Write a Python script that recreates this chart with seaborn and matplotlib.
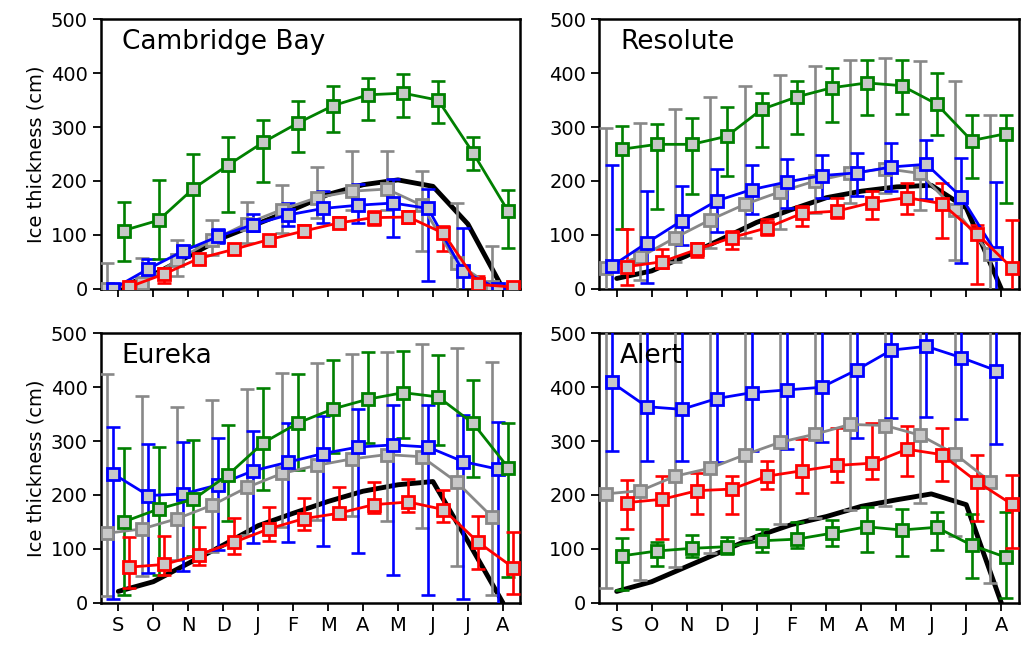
import numpy as np
import matplotlib
matplotlib.use("Agg")
import matplotlib.pyplot as plt
import seaborn as sns

months = ["S", "O", "N", "D", "J", "F", "M", "A", "M", "J", "J", "A"]
stations = ["Cambridge Bay", "Resolute", "Eureka", "Alert"]
yticks = [0, 100, 200, 300, 400, 500]

# ---- Cambridge Bay ----
cb_gray = [0, 10, 53, 90, 121, 147, 169, 181, 185, 155, 48, 4]
cb_gray_lo = [-48, -30, 23, 62, 85, 104, 132, 147, 147, 70, -60, -70]
cb_gray_hi = [48, 57, 90, 127, 161, 192, 226, 255, 255, 218, 160, 79]
cb_blue = [0, 37, 70, 97, 119, 137, 149, 155, 159, 149, 32, 0]
cb_blue_lo = [0, 23, 62, 85, 107, 117, 122, 122, 96, 14, -50, 0]
cb_blue_hi = [0, 56, 79, 110, 139, 159, 182, 195, 203, 186, 113, 0]
cb_green = [108, 127, 186, 230, 272, 308, 340, 360, 363, 350, 252, 144]
cb_green_lo = [51, 55, 80, 142, 199, 254, 291, 314, 319, 308, 220, 76]
cb_green_hi = [161, 201, 250, 282, 314, 348, 376, 392, 398, 386, 282, 184]
cb_red = [3, 27, 56, 73, 91, 107, 122, 132, 133, 103, 8, 3]
cb_red_lo = [0, 11, 50, 68, 86, 99, 114, 119, 122, 70, -10, 0]
cb_red_hi = [6, 39, 61, 78, 96, 119, 134, 144, 144, 116, 23, 6]
cb_black = [2, 26, 60, 95, 121, 147, 175, 193, 202, 190, 120, 0]

# ---- Resolute ----
rs_gray = [39, 59, 95, 128, 157, 180, 200, 214, 223, 214, 147, 64]
rs_gray_lo = [-200, 16, 50, 75, 95, 110, 140, 160, 177, 146, 54, -200]
rs_gray_hi = [299, 308, 333, 355, 377, 397, 413, 425, 429, 423, 386, 323]
rs_blue = [42, 85, 126, 163, 184, 198, 210, 215, 226, 231, 170, 66]
rs_blue_lo = [-150, 10, 82, 105, 138, 150, 169, 172, 181, 166, 48, -60]
rs_blue_hi = [230, 181, 191, 223, 229, 240, 249, 252, 271, 276, 243, 198]
rs_green = [259, 268, 268, 283, 333, 356, 373, 382, 377, 343, 275, 288]
rs_green_lo = [111, 148, 176, 210, 263, 287, 309, 323, 325, 285, 206, 160]
rs_green_hi = [302, 305, 316, 338, 363, 385, 409, 424, 424, 401, 322, 322]
rs_red = [41, 50, 73, 95, 113, 140, 144, 160, 169, 158, 102, 39]
rs_red_lo = [6, 39, 58, 73, 99, 116, 132, 129, 138, 95, 8, -20]
rs_red_hi = [111, 73, 85, 107, 130, 153, 169, 181, 197, 196, 118, 128]
rs_black = [19, 33, 61, 92, 123, 147, 169, 181, 189, 192, 150, 0]

# ---- Eureka ----
eu_gray = [129, 137, 156, 181, 214, 240, 255, 267, 275, 271, 224, 160]
eu_gray_lo = [12, 50, 80, 95, 125, 140, 154, 161, 151, 138, 68, 14]
eu_gray_hi = [424, 383, 364, 376, 396, 426, 445, 462, 466, 481, 472, 447]
eu_blue = [239, 199, 202, 219, 245, 261, 277, 289, 293, 289, 262, 248]
eu_blue_lo = [6, 55, 58, 98, 111, 112, 106, 93, 52, 14, 6, -50]
eu_blue_hi = [326, 295, 298, 306, 318, 333, 347, 360, 368, 368, 348, 336]
eu_green = [150, 174, 192, 238, 297, 334, 360, 378, 390, 382, 333, 251]
eu_green_lo = [14, 52, 86, 151, 210, 247, 278, 297, 306, 293, 233, 48]
eu_green_hi = [287, 289, 303, 330, 399, 424, 450, 466, 468, 459, 413, 334]
eu_red = [66, 71, 89, 112, 137, 156, 166, 182, 187, 173, 112, 65]
eu_red_lo = [28, 52, 70, 90, 115, 135, 157, 166, 169, 149, 62, 17]
eu_red_hi = [122, 124, 140, 157, 177, 195, 214, 224, 230, 210, 161, 131]
eu_black = [21, 39, 73, 107, 143, 166, 188, 207, 219, 225, 114, 0]

# ---- Alert ----
al_gray = [202, 208, 235, 250, 275, 298, 313, 331, 329, 311, 276, 225]
al_gray_lo = [28, 42, 67, 92, 120, 147, 157, 173, 179, 186, 123, 36]
al_gray_hi = [600, 600, 600, 600, 600, 600, 600, 600, 600, 600, 600, 600]
al_blue = [409, 364, 359, 379, 390, 395, 400, 432, 469, 476, 455, 431]
al_blue_lo = [282, 264, 264, 262, 281, 285, 298, 305, 343, 345, 341, 295]
al_blue_hi = [620, 620, 620, 620, 620, 620, 620, 620, 620, 620, 620, 620]
al_green = [87, 96, 101, 104, 115, 118, 129, 141, 135, 140, 107, 84]
al_green_lo = [24, 68, 84, 90, 94, 102, 106, 94, 86, 97, 45, 8]
al_green_hi = [121, 112, 126, 122, 137, 150, 154, 177, 174, 168, 164, 168]
al_red = [186, 192, 208, 211, 235, 245, 255, 259, 285, 275, 225, 183]
al_red_lo = [137, 119, 164, 164, 211, 204, 224, 230, 236, 226, 151, 101]
al_red_hi = [228, 235, 241, 235, 264, 304, 324, 333, 329, 324, 275, 238]
al_black = [21, 39, 67, 95, 123, 145, 160, 179, 191, 202, 182, 0]

panels = [
    ("Cambridge Bay", cb_black, [(cb_gray, cb_gray_lo, cb_gray_hi), (cb_blue, cb_blue_lo, cb_blue_hi),
                                 (cb_green, cb_green_lo, cb_green_hi), (cb_red, cb_red_lo, cb_red_hi)]),
    ("Resolute", rs_black, [(rs_gray, rs_gray_lo, rs_gray_hi), (rs_blue, rs_blue_lo, rs_blue_hi),
                            (rs_green, rs_green_lo, rs_green_hi), (rs_red, rs_red_lo, rs_red_hi)]),
    ("Eureka", eu_black, [(eu_gray, eu_gray_lo, eu_gray_hi), (eu_blue, eu_blue_lo, eu_blue_hi),
                          (eu_green, eu_green_lo, eu_green_hi), (eu_red, eu_red_lo, eu_red_hi)]),
    ("Alert", al_black, [(al_gray, al_gray_lo, al_gray_hi), (al_blue, al_blue_lo, al_blue_hi),
                         (al_green, al_green_lo, al_green_hi), (al_red, al_red_lo, al_red_hi)]),
]

colors = ["#888888", "#0000ff", "#008000", "#ff0000"]
offsets = [-0.32, -0.14, 0.15, 0.30]
face = "#c8c8c8"

sns.set_style("ticks")
plt.rcParams["font.family"] = ["DejaVu Sans"]
plt.rcParams["text.color"] = "black"
plt.rcParams["axes.labelcolor"] = "black"
plt.rcParams["xtick.color"] = "black"
plt.rcParams["ytick.color"] = "black"

fig, axes = plt.subplots(2, 2, figsize=(10.29, 6.46), dpi=100, sharex=True)
fig.subplots_adjust(left=0.098, right=0.990, top=0.970, bottom=0.067, wspace=0.188, hspace=0.166)

base = np.arange(len(months))
for ax, (name, black, series) in zip(axes.flat, panels):
    sns.lineplot(x=base, y=black, ax=ax, color="black", linewidth=3.5, zorder=2)
    for (mean, lo, hi), c, off in zip(series, colors, offsets):
        xs = base + off
        mean = np.asarray(mean, float)
        yerr = np.vstack([mean - np.asarray(lo, float), np.asarray(hi, float) - mean])
        ax.errorbar(xs, mean, yerr=yerr, fmt="none", ecolor=c, elinewidth=1.9,
                    capsize=5, capthick=1.9, zorder=3)
        sns.lineplot(x=xs, y=mean, ax=ax, color=c, linewidth=2.0, marker="s",
                     markersize=9, markerfacecolor=face, markeredgecolor=c,
                     markeredgewidth=2.0, zorder=4)
    ax.set_xlim(-0.5, 11.5)
    ax.set_ylim(0, 500)
    ax.set_yticks(yticks)
    ax.set_xticks(base)
    ax.set_xticklabels(months)
    ax.tick_params(axis="both", direction="out", length=6, width=1.3, labelsize=14,
                   top=False, right=False, colors="black")
    for sp in ax.spines.values():
        sp.set_visible(True)
        sp.set_linewidth(1.8)
        sp.set_color("black")
    ax.text(0.05, 0.965, name, transform=ax.transAxes, ha="left", va="top",
            fontsize=19, color="black")
    ax.set_xlabel("")
    ax.set_ylabel("")

for ax in axes[0]:
    ax.tick_params(labelbottom=False)
for ax in axes[:, 0]:
    ax.set_ylabel("Ice thickness (cm)", fontsize=14, color="black")

fig.savefig("out.png", dpi=100)
